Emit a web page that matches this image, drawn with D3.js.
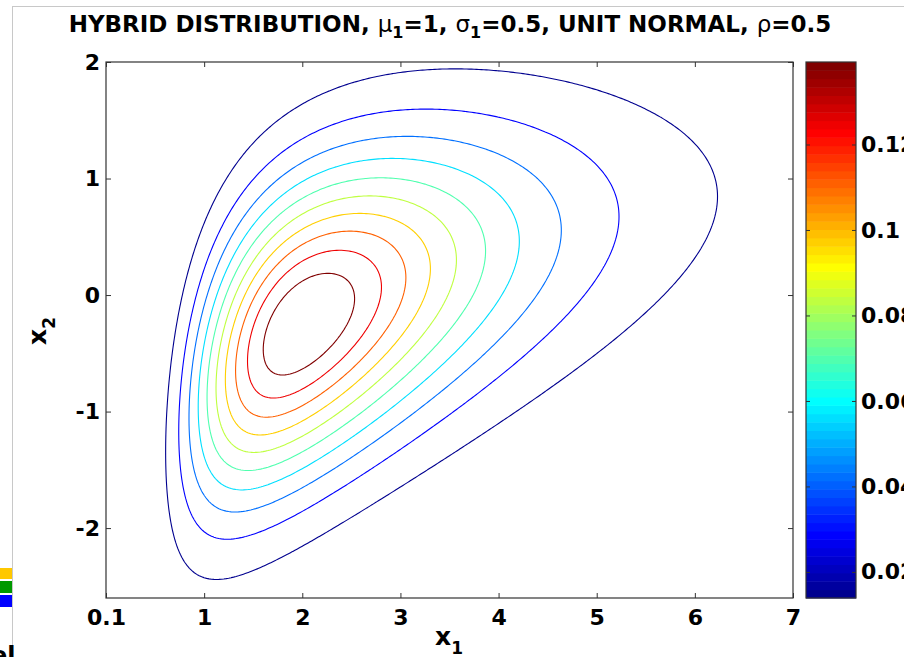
<!DOCTYPE html>
<html>
<head>
<meta charset="utf-8">
<script src="https://cdn.jsdelivr.net/npm/d3@7"></script>
<style>
  body { margin: 0; background: #fff; }
  svg { display: block; font-family: "DejaVu Sans", "Liberation Sans", Arial, sans-serif; font-weight: bold; }
</style>
</head>
<body>
<script>
// distribution parameters (from the title)
var mu1 = 1, sigma1 = 0.5, rho = 0.5;
// contour levels (10 levels)
var levels = [0.0139, 0.0279, 0.0418, 0.0557, 0.0696, 0.0836, 0.0975, 0.1114, 0.1253, 0.1393];
// ticks
var xTicks = [0, 1, 2, 3, 4, 5, 6, 7];
var xTickLabels = ["0.1", "1", "2", "3", "4", "5", "6", "7"];
var yTicks = [-2, -1, 0, 1, 2];
var cTicks = [0.02, 0.04, 0.06, 0.08, 0.1, 0.12];
var cTickLabels = ["0.02", "0.04", "0.06", "0.08", "0.1", "0.12"];
// evaluation grid; the first x1 column (0.1) sits at the left edge of the axis, as in the source plot
var x1Range = [0.1, 7], x2Range = [-2.6, 2], step = 0.025;
var x1Shift = 0.1;

var W = 904, H = 657;
var plot = {left: 106, right: 793, top: 62, bottom: 598};
var cbar = {left: 806, right: 856};

var svg = d3.select("body").append("svg").attr("width", W).attr("height", H);

// figure frame pieces (screenshot edges)
svg.append("line").attr("x1", 12).attr("x2", W).attr("y1", 6.5).attr("y2", 6.5).attr("stroke", "#c8c8c8");
svg.append("line").attr("x1", 12.5).attr("x2", 12.5).attr("y1", 6).attr("y2", H).attr("stroke", "#c8c8c8");
svg.append("rect").attr("x", 0).attr("y", 568).attr("width", 12).attr("height", 11).attr("fill", "#ffc800");
svg.append("rect").attr("x", 0).attr("y", 581).attr("width", 12).attr("height", 12).attr("fill", "#009900");
svg.append("rect").attr("x", 0).attr("y", 595).attr("width", 12).attr("height", 12).attr("fill", "#0000ff");
svg.append("text").attr("x", -9).attr("y", 664).attr("font-size", 24).text("el");

// scales
var x = d3.scaleLinear().domain([0, 7]).range([plot.left, plot.right]);
var y = d3.scaleLinear().domain([-2.6, 2]).range([plot.bottom, plot.top]);
var cmin = levels[0], cmax = levels[levels.length - 1];
var cy = d3.scaleLinear().domain([cmin, cmax]).range([plot.bottom, plot.top]);

// jet colormap (64 entries)
function jet(i) {
  var t = (i + 1) / 64;
  var c = function(v) { return Math.max(0, Math.min(1, v)); };
  return d3.rgb(255 * c(1.5 - Math.abs(4 * t - 3)), 255 * c(1.5 - Math.abs(4 * t - 2)), 255 * c(1.5 - Math.abs(4 * t - 1))).formatHex();
}
function levelColor(v) {
  var idx = Math.min(63, Math.floor((v - cmin) / (cmax - cmin) * 64 + 1e-9));
  return jet(idx);
}

// density of lognormal x1 / normal x2 with correlation rho
var nx = Math.round((x1Range[1] - x1Range[0]) / step) + 1;
var ny = Math.round((x2Range[1] - x2Range[0]) / step) + 1;
var values = new Array(nx * ny);
var k = 1 / (2 * Math.PI * Math.sqrt(1 - rho * rho));
for (var j = 0; j < ny; j++) {
  for (var i = 0; i < nx; i++) {
    var a = x1Range[0] + i * step, b = x2Range[0] + j * step;
    var z1 = (Math.log(a) - mu1) / sigma1, z2 = b;
    var q = (z1 * z1 - 2 * rho * z1 * z2 + z2 * z2) / (2 * (1 - rho * rho));
    values[j * nx + i] = k * Math.exp(-q) / (sigma1 * a);
  }
}

var contours = d3.contours().size([nx, ny]).thresholds(levels)(values);
var proj = d3.geoTransform({
  point: function(px, py) {
    this.stream.point(x(x1Range[0] - x1Shift + (px - 0.5) * step), y(x2Range[0] + (py - 0.5) * step));
  }
});
var path = d3.geoPath(proj);

svg.append("clipPath").attr("id", "clip").append("rect")
  .attr("x", plot.left).attr("y", plot.top)
  .attr("width", plot.right - plot.left).attr("height", plot.bottom - plot.top);

svg.append("g").attr("clip-path", "url(#clip)")
  .selectAll("path").data(contours).enter().append("path")
  .attr("d", path)
  .attr("fill", "none")
  .attr("stroke", function(d) { return levelColor(d.value); })
  .attr("stroke-width", 1.1);

// axes box and ticks
function styleAxis(g) {
  g.select(".domain").remove();
  g.selectAll(".tick line").attr("stroke", "#333");
  g.selectAll("text").attr("font-size", 22).attr("font-weight", "bold").attr("fill", "#000")
    .attr("font-family", "\"DejaVu Sans\", \"Liberation Sans\", Arial, sans-serif");
}
svg.append("g").attr("transform", "translate(0," + plot.bottom + ")")
  .call(d3.axisBottom(x).tickValues(xTicks).tickFormat(function(d, i) { return xTickLabels[i]; })
    .tickSizeInner(-5).tickSizeOuter(0).tickPadding(11))
  .call(styleAxis);
svg.append("g").attr("transform", "translate(0," + plot.top + ")")
  .call(d3.axisTop(x).tickValues(xTicks).tickFormat("").tickSizeInner(-5).tickSizeOuter(0))
  .call(styleAxis);
svg.append("g").attr("transform", "translate(" + plot.left + ",0)")
  .call(d3.axisLeft(y).tickValues(yTicks).tickFormat(function(d) { return String(d); })
    .tickSizeInner(-5).tickSizeOuter(0).tickPadding(6))
  .call(styleAxis);
svg.append("g").attr("transform", "translate(" + plot.right + ",0)")
  .call(d3.axisRight(y).tickValues(yTicks).tickFormat("").tickSizeInner(-5).tickSizeOuter(0))
  .call(styleAxis);
svg.append("rect").attr("x", plot.left).attr("y", plot.top)
  .attr("width", plot.right - plot.left).attr("height", plot.bottom - plot.top)
  .attr("fill", "none").attr("stroke", "#333").attr("stroke-width", 1.2);

// colour bar
var cstep = (cmax - cmin) / 64;
svg.append("g").selectAll("rect").data(d3.range(64)).enter().append("rect")
  .attr("x", cbar.left).attr("width", cbar.right - cbar.left)
  .attr("y", function(d) { return cy(cmin + (d + 1) * cstep); })
  .attr("height", function(d) { return cy(cmin + d * cstep) - cy(cmin + (d + 1) * cstep) + 0.5; })
  .attr("fill", function(d) { return jet(d); });
svg.append("g").attr("transform", "translate(" + cbar.right + ",0)")
  .call(d3.axisRight(cy).tickValues(cTicks).tickFormat(function(d, i) { return cTickLabels[i]; })
    .tickSizeInner(-4).tickSizeOuter(0).tickPadding(5))
  .call(styleAxis);
svg.append("g").attr("transform", "translate(" + cbar.left + ",0)")
  .call(d3.axisLeft(cy).tickValues(cTicks).tickFormat("").tickSizeInner(-4).tickSizeOuter(0))
  .call(styleAxis);
svg.append("rect").attr("x", cbar.left).attr("y", plot.top)
  .attr("width", cbar.right - cbar.left).attr("height", plot.bottom - plot.top)
  .attr("fill", "none").attr("stroke", "#333").attr("stroke-width", 1.2);

// title
var title = svg.append("text").attr("x", 450).attr("y", 32).attr("text-anchor", "middle")
  .attr("font-size", 23).attr("font-weight", "bold");
title.append("tspan").text("HYBRID DISTRIBUTION, ");
title.append("tspan").attr("font-weight", "normal").text("μ");
title.append("tspan").attr("font-size", 16).attr("dy", 6).text("1");
title.append("tspan").attr("dy", -6).text("=1, ");
title.append("tspan").attr("font-weight", "normal").text("σ");
title.append("tspan").attr("font-size", 16).attr("dy", 6).text("1");
title.append("tspan").attr("dy", -6).text("=0.5, UNIT NORMAL, ");
title.append("tspan").attr("font-weight", "normal").text("ρ");
title.append("tspan").text("=0.5");

// axis labels
var xl = svg.append("text").attr("x", 449).attr("y", 645).attr("text-anchor", "middle").attr("font-size", 25);
xl.append("tspan").text("x");
xl.append("tspan").attr("font-size", 17).attr("dy", 9).text("1");
var yl = svg.append("text").attr("transform", "translate(46,331) rotate(-90)").attr("text-anchor", "middle").attr("font-size", 25);
yl.append("tspan").text("x");
yl.append("tspan").attr("font-size", 17).attr("dy", 9).text("2");
</script>
</body>
</html>
